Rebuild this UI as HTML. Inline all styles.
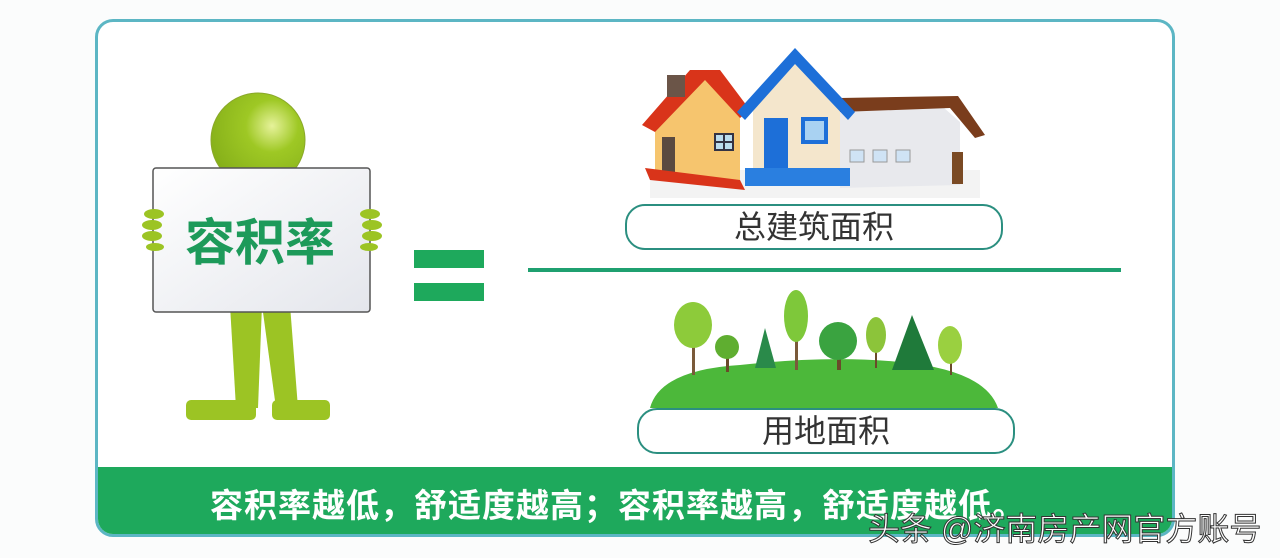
<!DOCTYPE html>
<html><head><meta charset="utf-8"><style>
html,body{margin:0;padding:0;width:1280px;height:558px;background:#fbfcfc;overflow:hidden;position:relative;font-family:"Liberation Sans","Noto Sans CJK SC",sans-serif}
.card{position:absolute;left:95px;top:19px;width:1074px;height:512px;border:3px solid #5cb6c4;border-radius:18px;background:#fff;overflow:hidden}
.band{position:absolute;left:0;right:0;bottom:0;height:67px;background:#1ea95c}
.band span{position:absolute;left:112px;top:12px;color:#fff;font-size:33px;font-weight:bold;letter-spacing:1px;white-space:nowrap}
.pill{position:absolute;border:2px solid #2b8f80;border-radius:20px;background:#fff;text-align:center;color:#333;font-size:32px;line-height:42px}
.wm{position:absolute;left:868px;top:504px;font-size:32px;color:#fff;white-space:nowrap;-webkit-text-stroke:1px #333;letter-spacing:0px}
</style></head><body>
<div class="card"><div class="band"><span>容积率越低，舒适度越高；容积率越高，舒适度越低。</span></div></div>

<svg width="1280" height="558" style="position:absolute;left:0;top:0">
<defs>
<radialGradient id="hg" cx="0.65" cy="0.35" r="0.7"><stop offset="0" stop-color="#e6f29a"/><stop offset="0.4" stop-color="#9ec824"/><stop offset="1" stop-color="#86b01a"/></radialGradient>
<linearGradient id="sg" x1="0" y1="0" x2="1" y2="1"><stop offset="0" stop-color="#fff"/><stop offset="1" stop-color="#e4e6ec"/></linearGradient>
</defs>
<circle cx="258" cy="140" r="47" fill="url(#hg)" stroke="#8aa82a"/>
<path d="M230 305 L262 305 L258 408 L236 408 Z" fill="#9cc424"/>
<path d="M262 305 L290 305 L298 408 L276 408 Z" fill="#9cc424"/>
<rect x="186" y="400" width="70" height="20" rx="5" fill="#9cc424"/>
<rect x="272" y="400" width="58" height="20" rx="5" fill="#9cc424"/>
<rect x="153" y="168" width="217" height="144" rx="3" fill="url(#sg)" stroke="#555" stroke-width="1.5"/>
<g fill="#9cc424"><ellipse cx="154" cy="214" rx="10" ry="5"/><ellipse cx="152" cy="225" rx="10" ry="5"/><ellipse cx="152" cy="236" rx="10" ry="5"/><ellipse cx="155" cy="247" rx="9" ry="4"/>
<ellipse cx="370" cy="214" rx="10" ry="5"/><ellipse cx="372" cy="225" rx="10" ry="5"/><ellipse cx="372" cy="236" rx="10" ry="5"/><ellipse cx="369" cy="247" rx="9" ry="4"/></g>
<text x="260" y="260" text-anchor="middle" font-size="50" font-weight="bold" fill="#1d9a5a" font-family="Liberation Sans,Noto Sans CJK SC,sans-serif">容积率</text>
<rect x="414" y="250" width="70" height="18" fill="#1ea95c"/>
<rect x="414" y="283" width="70" height="18" fill="#1ea95c"/>
<rect x="528" y="268" width="593" height="4" fill="#1fa070"/>
<rect x="650" y="170" width="330" height="28" fill="#f3f3f3"/>
<path d="M655 112 L700 70 L740 110 L740 180 L655 180 Z" fill="#f6c56e"/>
<path d="M642 125 L690 70 L720 70 L750 110 L740 118 L705 80 L655 132 Z" fill="#d9341a"/>
<rect x="667" y="75" width="18" height="22" fill="#6b5548"/>
<rect x="662" y="137" width="13" height="35" fill="#5a4a40"/>
<rect x="714" y="133" width="20" height="18" fill="#334" /><rect x="716" y="135" width="7" height="6" fill="#bde"/><rect x="725" y="135" width="7" height="6" fill="#bde"/><rect x="716" y="143" width="7" height="6" fill="#bde"/><rect x="725" y="143" width="7" height="6" fill="#bde"/>
<path d="M645 168 L740 180 L745 190 L650 180 Z" fill="#d9341a"/>
<path d="M840 105 L935 100 L960 122 L960 185 L840 188 Z" fill="#e8e9ed"/>
<path d="M840 98 L958 96 L985 135 L975 138 L950 108 L840 112 Z" fill="#7a3d1c"/>
<rect x="952" y="152" width="11" height="32" fill="#7a4a24"/>
<g fill="#cfe3f5" stroke="#999"><rect x="850" y="150" width="14" height="12"/><rect x="873" y="150" width="14" height="12"/><rect x="896" y="150" width="14" height="12"/></g>
<path d="M753 105 L795 62 L840 105 L840 170 L753 170 Z" fill="#f4e6cc"/>
<path d="M737 112 L795 48 L855 112 L848 120 L795 64 L745 120 Z" fill="#1d6fd8"/>
<rect x="764" y="118" width="24" height="52" fill="#1d6fd8"/>
<rect x="801" y="117" width="27" height="27" fill="#1d6fd8"/><rect x="805" y="121" width="19" height="19" fill="#a9d2f2"/>
<rect x="745" y="168" width="105" height="18" fill="#2a7fe0"/>
<path d="M650 408 Q660 370 740 365 Q830 355 900 362 Q985 370 998 408 Z" fill="#4cb83a"/>
<g>
<rect x="692" y="330" width="3" height="45" fill="#7a5a3a"/><ellipse cx="693" cy="325" rx="19" ry="23" fill="#8dcb3a"/>
<rect x="726" y="350" width="3" height="22" fill="#6a4a2a"/><circle cx="727" cy="347" r="12" fill="#5fae30"/>
<path d="M765 328 L755 368 L776 368 Z" fill="#2a8a4a"/>
<rect x="795" y="320" width="3" height="50" fill="#7a5a3a"/><ellipse cx="796" cy="316" rx="12" ry="26" fill="#7ec83a"/>
<rect x="837" y="340" width="4" height="30" fill="#6a4a2a"/><circle cx="838" cy="341" r="19" fill="#3aa340"/>
<rect x="875" y="340" width="2" height="28" fill="#6a4a2a"/><ellipse cx="876" cy="335" rx="10" ry="18" fill="#8cc43a"/>
<path d="M912 315 L892 370 L934 370 Z" fill="#1f7a3a"/>
<rect x="950" y="350" width="2" height="25" fill="#6a4a2a"/><ellipse cx="950" cy="345" rx="12" ry="19" fill="#9ad040"/>
</g>
</svg>
<div class="pill" style="left:625px;top:204px;width:374px;height:42px">总建筑面积</div>
<div class="pill" style="left:637px;top:408px;width:374px;height:42px">用地面积</div>
<div class="wm">头条 @济南房产网官方账号</div>
</body></html>
